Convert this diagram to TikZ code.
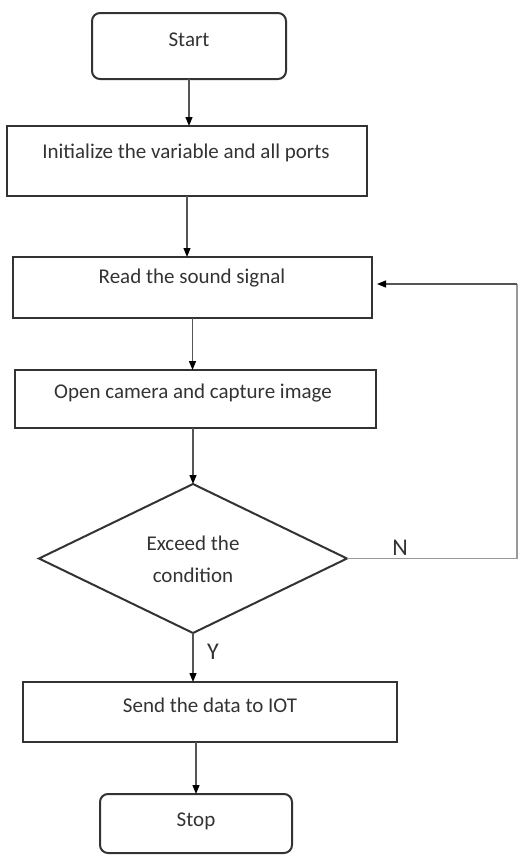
\documentclass[tikz,border=0pt]{standalone}
\usepackage{fontspec}
\setmainfont{Carlito}
\usetikzlibrary{shapes.geometric,arrows.meta}
\definecolor{txt}{HTML}{333333}
\definecolor{edge}{HTML}{333333}
\definecolor{conn}{HTML}{555555}
\begin{document}
\begin{tikzpicture}[x=1pt,y=-1pt,
  box/.style={draw=edge,line width=2pt,rectangle,inner sep=0pt,outer sep=0pt},
  term/.style={box,rounded corners=8pt},
  btext/.style={text=txt,font=\fontsize{21}{24}\selectfont,inner sep=0pt},
  lab/.style={text=txt,font=\fontsize{24}{28}\selectfont,inner sep=0pt},
  arr/.style={draw=conn,line width=1.2pt,-{Triangle[length=9pt,width=7pt,color=black]}},
  fbline/.style={draw=conn!60,line width=1.2pt}]
\useasboundingbox (0,0) rectangle (519,855);
% boxes
\node[term,minimum width=194pt,minimum height=66pt] (start) at (189,46) {};
\node[btext] (startT) at (189,40) {Start};
\node[box,minimum width=360pt,minimum height=70pt] (init) at (187,161) {};
\node[btext] (initT) at (186,153) {Initialize the variable and all ports};
\node[box,minimum width=359pt,minimum height=61pt] (read) at (192.5,287.5) {};
\node[btext] (readT) at (192,278) {Read the sound signal};
\node[box,minimum width=361pt,minimum height=58pt] (open) at (195.5,399) {};
\node[btext] (openT) at (193,393) {Open camera and capture image};
\node[diamond,draw=edge,line width=2pt,inner sep=0pt,outer sep=0pt,minimum width=308pt,minimum height=149pt] (dia) at (193,558.5) {};
\node[btext,align=center] (diaT) at (193,559) {Exceed the\\[8pt]condition};
\node[box,minimum width=374pt,minimum height=60pt] (send) at (210,712) {};
\node[btext] (sendT) at (210,705) {Send the data to IOT};
\node[term,minimum width=192pt,minimum height=59pt] (stop) at (196,823.5) {};
\node[btext] (stopT) at (196,821) {Stop};
% labels
\node[lab] (N) at (400,548) {N};
\node[lab] (Y) at (213,652) {Y};
% connectors
\draw[arr] (start.south) -- (start.south |- init.north);
\draw[arr] (init.south) -- (init.south |- read.north);
\draw[arr] (read.south) -- (read.south |- open.north);
\draw[arr] (dia.north |- open.south) -- (dia.north);
\draw[arr] (dia.south) -- (dia.south |- send.north);
\draw[arr] (stop.north |- send.south) -- (stop.north);
% feedback
\coordinate (fbB) at (517,558.5);
\coordinate (fbT) at (517,284);
\draw[fbline] (dia.east) -- (fbB) -- (fbT);
\draw[arr] (fbT) -- ([xshift=5pt]read.east |- fbT);
\end{tikzpicture}
\end{document}
